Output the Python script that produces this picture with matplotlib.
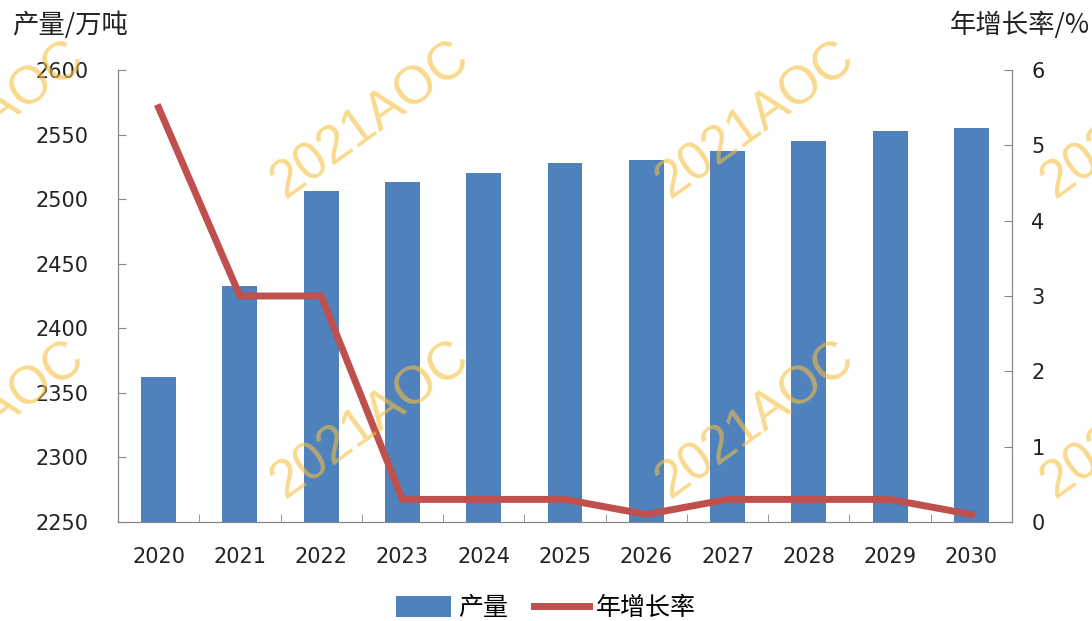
import matplotlib.pyplot as plt
import numpy as np

plt.rcParams['font.family'] = ['DejaVu Sans', 'Noto Sans CJK SC']

years = ['2020', '2021', '2022', '2023', '2024', '2025', '2026', '2027', '2028', '2029', '2030']
output = [2362, 2433, 2506, 2513, 2520, 2528, 2530, 2537, 2545, 2553, 2555]
growth = [5.5, 3.0, 3.0, 0.3, 0.3, 0.3, 0.1, 0.3, 0.3, 0.3, 0.1]

W, H = 1092, 621
fig = plt.figure(figsize=(W / 100, H / 100), dpi=100)
ax1 = fig.add_axes([118 / W, 1 - 522 / H, (1012 - 118) / W, (522 - 70) / H])
ax2 = ax1.twinx()

x = np.arange(len(years))
bars = ax1.bar(x, output, width=0.43, color='#4F81BD', label='产量', zorder=2)
line, = ax2.plot(x, growth, color='#C0504D', linewidth=5, label='年增长率',
                 solid_joinstyle='round', zorder=3)

ax1.set_xlim(-0.5, len(years) - 0.5)
ax1.set_ylim(2250, 2600)
ax1.set_yticks(np.arange(2250, 2601, 50))
ax2.set_ylim(0, 6)
ax2.set_yticks(range(0, 7))

# category ticks sit between bars
ax1.set_xticks(x)
ax1.set_xticklabels(years)
ax1.set_xticks(np.arange(0.5, len(years) - 1, 1), minor=True)
ax1.tick_params(axis='x', which='major', length=0, pad=18, labelsize=15, labelcolor='#222222')
ax1.tick_params(axis='x', which='minor', direction='in', length=6, color='#868686')
ax1.tick_params(axis='y', direction='in', length=6, color='#868686', labelsize=15, pad=21,
                labelcolor='#222222')
ax2.tick_params(axis='y', direction='in', length=6, color='#868686', labelsize=15, pad=14,
                labelcolor='#222222')

for a in (ax1, ax2):
    a.spines['top'].set_visible(False)
    for s in ('left', 'right', 'bottom'):
        a.spines[s].set_color('#868686')

ax1.set_zorder(ax2.get_zorder() - 1)
ax2.patch.set_visible(False)

cjk = ['Noto Sans CJK SC', 'DejaVu Sans']
fig.text(12 / W, 1 - 25 / H, '产量/万吨', fontsize=19, family=cjk, va='center', ha='left',
         color='#222222')
fig.text(1090 / W, 1 - 25 / H, '年增长率/%', fontsize=19, family=cjk, va='center', ha='right',
         color='#222222')

fig.legend([bars, line], ['产量', '年增长率'], loc='center', bbox_to_anchor=(0.5, 1 - 608 / H),
           ncol=2, frameon=False, prop={'family': cjk, 'size': 18},
           handlelength=2.2, handleheight=0.9, handletextpad=0.3, columnspacing=1.0)

# watermarks
for cx in (-15, 370, 755, 1140):
    for cy in (120, 420):
        fig.text(cx / W, 1 - cy / H, '2021AOC', fontsize=38, color='#F5C040', alpha=0.6,
                 family='Liberation Sans', rotation=36, ha='center', va='center', zorder=10)

fig.savefig('out.png', dpi=100)
